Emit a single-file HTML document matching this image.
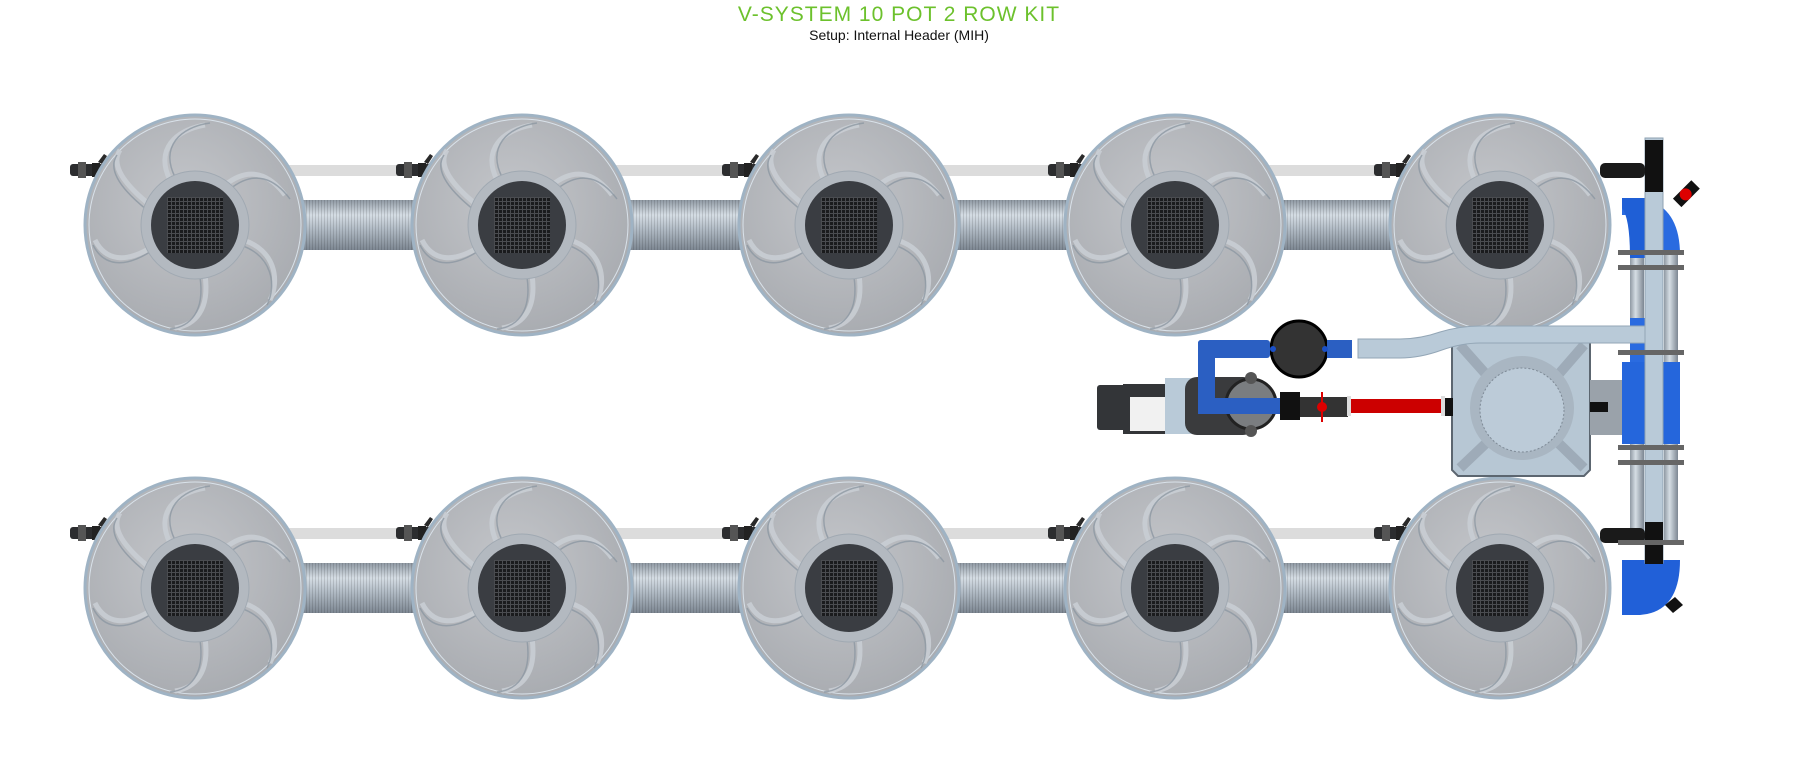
<!DOCTYPE html>
<html><head><meta charset="utf-8"><style>
html,body{margin:0;padding:0;background:#fff;width:1798px;height:770px;overflow:hidden}
svg{display:block}
</style></head><body>
<svg width="1798" height="770" viewBox="0 0 1798 770" xmlns="http://www.w3.org/2000/svg">
<defs>
<linearGradient id="tube" x1="0" y1="0" x2="0" y2="1">
<stop offset="0" stop-color="#8f99a3"/><stop offset="0.3" stop-color="#d5dde4"/><stop offset="0.6" stop-color="#aeb8c2"/><stop offset="1" stop-color="#7d8792"/></linearGradient>
<pattern id="rib" width="3" height="10" patternUnits="userSpaceOnUse"><rect width="3" height="10" fill="none"/><rect width="1" height="10" fill="#000" opacity="0.12"/></pattern>
<radialGradient id="pot" cx="0.45" cy="0.4" r="0.65"><stop offset="0" stop-color="#c4c6ca"/><stop offset="1" stop-color="#a7aaaf"/></radialGradient>
<pattern id="grid" width="4" height="4" patternUnits="userSpaceOnUse"><rect width="4" height="4" fill="#1a1b1d"/><rect width="1" height="4" fill="#4a4c50"/><rect width="4" height="1" fill="#4a4c50"/></pattern>
<linearGradient id="vt" x1="0" y1="0" x2="1" y2="0"><stop offset="0" stop-color="#8f99a3"/><stop offset="0.4" stop-color="#d5dde4"/><stop offset="1" stop-color="#7d8792"/></linearGradient>
<g id="potg">
<circle r="110" fill="url(#pot)" stroke="#9fb3c4" stroke-width="3"/>
<circle r="106" fill="none" stroke="#d9e2ea" stroke-width="1"/>
<g fill="none" stroke="#c9ced4" stroke-width="5" opacity="0.9">
<path d="M-25,-45 C-40,-75 -20,-95 10,-100"/>
<path d="M30,-40 C55,-60 75,-50 90,-30"/>
<path d="M48,15 C80,25 85,55 75,75"/>
<path d="M10,50 C15,85 0,100 -20,103"/>
<path d="M-40,20 C-70,40 -90,35 -100,15"/>
<path d="M-45,-20 C-70,-40 -85,-60 -75,-75"/>
</g>
<g fill="none" stroke="#8d98a3" stroke-width="1.5" opacity="0.8">
<path d="M-20,-48 C-35,-78 -15,-98 15,-102"/>
<path d="M35,-36 C60,-56 80,-46 95,-26"/>
<path d="M45,20 C77,30 82,60 72,80"/>
<path d="M5,52 C10,87 -5,102 -25,104"/>
<path d="M-42,25 C-72,45 -92,40 -102,20"/>
<path d="M-48,-15 C-73,-35 -88,-55 -78,-70"/>
</g>
<circle r="54" fill="#b3b9c0" stroke="#a0a9b2" stroke-width="1"/>
<circle r="44" fill="#3a3d42"/>
<rect x="-28" y="-28" width="56" height="56" fill="url(#grid)"/>
</g>
<g id="fit">
<rect x="-18" y="-6" width="36" height="12" rx="3" fill="#2c2d2f"/>
<rect x="-10" y="-8" width="8" height="16" fill="#555"/>
<rect x="4" y="-7" width="8" height="14" fill="#222"/>
<path d="M10,-8 l6,-8 l3,2 l-5,8z" fill="#2a2a2a"/>
</g>
</defs>

<text x="899" y="21" text-anchor="middle" font-family="Liberation Sans, sans-serif" font-size="21" fill="#6cc12c" letter-spacing="1">V-SYSTEM 10 POT 2 ROW KIT</text>
<text x="899" y="40" text-anchor="middle" font-family="Liberation Sans, sans-serif" font-size="14" fill="#111">Setup: Internal Header (MIH)</text>

<g id="row1">
<rect x="195" y="165" width="1305" height="11" fill="#dcdcdc"/>
<rect x="195" y="200" width="1305" height="50" fill="url(#tube)"/>
<rect x="195" y="200" width="1305" height="50" fill="url(#rib)"/>
<use href="#fit" x="88" y="170"/><use href="#fit" x="414" y="170"/><use href="#fit" x="740" y="170"/><use href="#fit" x="1066" y="170"/><use href="#fit" x="1392" y="170"/>
<use href="#potg" x="195" y="225"/><use href="#potg" x="522" y="225"/><use href="#potg" x="849" y="225"/><use href="#potg" x="1175" y="225"/><use href="#potg" x="1500" y="225"/>
</g>
<use href="#row1" y="363"/>

<rect x="1630" y="255" width="14" height="290" fill="url(#vt)"/>
<rect x="1664" y="255" width="14" height="290" fill="url(#vt)"/>
<path d="M1622,198 L1640,198 Q1680,205 1680,255 L1664,255 Q1660,225 1640,215 L1622,215z" fill="#2a6be0"/>
<path d="M1622,198 h26 v60 h-18 q0,-40 -8,-50z" fill="#1f5fd6"/>
<rect x="1622" y="362" width="58" height="82" fill="#2566dc"/>
<rect x="1630" y="318" width="18" height="44" fill="#2a6be0"/>
<path d="M1622,560 L1680,560 Q1680,612 1640,615 L1622,615z" fill="#2160d8"/>
<rect x="1645" y="138" width="18" height="425" fill="#b9cad8" stroke="#8ea2b2" stroke-width="1"/>
<rect x="1645" y="140" width="18" height="52" fill="#111"/>
<rect x="1645" y="522" width="18" height="42" fill="#111"/>
<rect x="1600" y="163" width="45" height="15" rx="5" fill="#1a1a1a"/>
<rect x="1600" y="528" width="45" height="15" rx="5" fill="#1a1a1a"/>
<g transform="translate(1680,200) rotate(-45)"><rect x="-4" y="-6" width="26" height="12" fill="#111"/><circle cx="8" cy="0" r="6" fill="#d00"/></g>
<path d="M1665,605 l10,-8 l8,8 l-10,8z" fill="#111"/>
<g fill="#666"><rect x="1618" y="250" width="66" height="5"/><rect x="1618" y="265" width="66" height="5"/><rect x="1618" y="350" width="66" height="5"/><rect x="1618" y="445" width="66" height="5"/><rect x="1618" y="460" width="66" height="5"/><rect x="1618" y="540" width="66" height="5"/></g>

<path d="M1458,337 H1584 L1590,343 V470 L1584,476 H1458 L1452,470 V343z" fill="#b7c7d4" stroke="#5c6670" stroke-width="2"/>
<path d="M1460,345 L1500,390 M1584,345 L1545,390 M1460,468 L1500,430 M1584,468 L1545,430" stroke="#8e9aa6" stroke-width="10" opacity="0.6"/>
<circle cx="1522" cy="408" r="52" fill="#a9b6c2"/>
<circle cx="1522" cy="410" r="42" fill="#bccbd8" stroke="#7e8a96" stroke-width="1" stroke-dasharray="2 2"/>
<rect x="1590" y="380" width="32" height="55" fill="#9aa2aa"/>
<rect x="1590" y="402" width="18" height="10" fill="#111"/>

<path d="M1358,339 H1400 Q1420,339 1440,332 Q1460,326 1480,326 H1645 V343 H1480 Q1462,343 1442,350 Q1420,358 1400,358 H1358z" fill="#b9cad8" stroke="#93a6b6" stroke-width="1"/>

<rect x="1097" y="385" width="36" height="45" rx="3" fill="#333538"/>
<rect x="1123" y="384" width="48" height="50" fill="#333538"/>
<rect x="1130" y="397" width="36" height="34" fill="#f1f1f1"/>
<rect x="1165" y="378" width="40" height="56" fill="#b9cad8"/>
<rect x="1185" y="377" width="70" height="58" rx="12" fill="#3a3b3d"/>
<circle cx="1251" cy="404" r="25" fill="#7a7d80" stroke="#222" stroke-width="3"/>
<circle cx="1251" cy="378" r="6" fill="#555"/><circle cx="1251" cy="431" r="6" fill="#555"/>
<circle cx="1299" cy="349" r="28" fill="#333" stroke="#000" stroke-width="3"/>
<rect x="1198" y="340" width="17" height="70" rx="3" fill="#2b5fc2"/>
<rect x="1198" y="340" width="72" height="18" rx="3" fill="#2b5fc2"/>
<rect x="1327" y="340" width="25" height="18" fill="#2b5fc2"/>
<circle cx="1273" cy="349" r="3" fill="#1a50c8"/><circle cx="1325" cy="349" r="3" fill="#1a50c8"/>
<rect x="1198" y="398" width="82" height="16" fill="#2b5fc2"/>
<rect x="1280" y="392" width="20" height="28" fill="#111"/>
<rect x="1300" y="397" width="48" height="20" fill="#333"/>
<circle cx="1322" cy="407" r="5" fill="#d00"/><rect x="1321" y="392" width="2" height="30" fill="#d00"/>
<rect x="1347" y="399" width="96" height="14" fill="#cc0000"/>
<rect x="1347" y="396" width="4" height="20" fill="#ddd"/><rect x="1441" y="396" width="4" height="20" fill="#ddd"/>
<rect x="1445" y="398" width="8" height="18" fill="#111"/>
</svg>
</body></html>
